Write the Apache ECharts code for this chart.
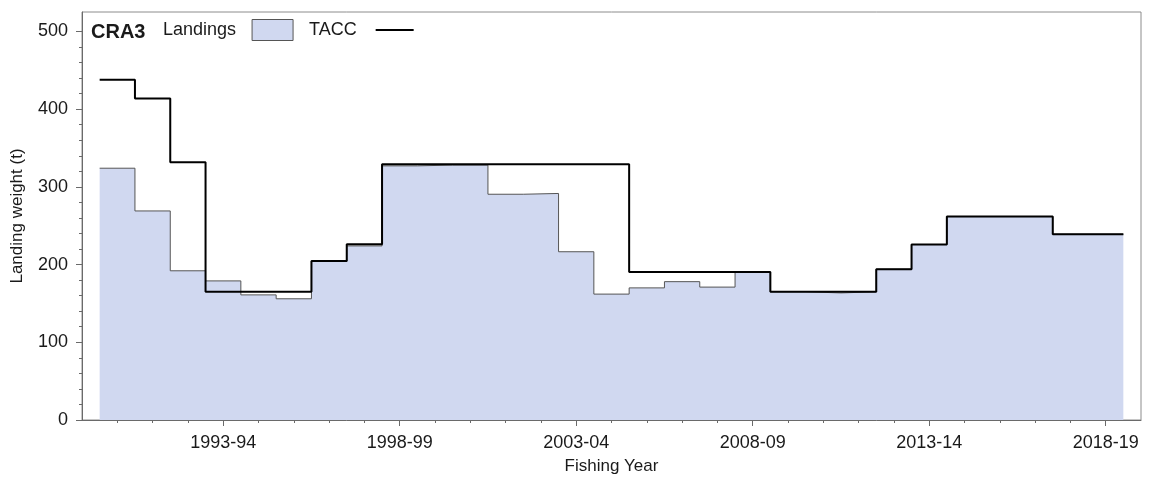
<!DOCTYPE html>
<html>
<head>
<meta charset="utf-8">
<script src="https://cdn.jsdelivr.net/npm/echarts@6/dist/echarts.min.js"></script>
<style>
  html, body { margin: 0; padding: 0; background: #ffffff; }
  #chart { width: 1152px; height: 482px; }
</style>
</head>
<body>
<div id="chart"></div>
<script>
// CRA3 rock lobster: landings and TACC by fishing year (tonnes)
const fishingYears = [
  '1990-91', '1991-92', '1992-93', '1993-94', '1994-95', '1995-96', '1996-97',
  '1997-98', '1998-99', '1999-00', '2000-01', '2001-02', '2002-03', '2003-04',
  '2004-05', '2005-06', '2006-07', '2007-08', '2008-09', '2009-10', '2010-11',
  '2011-12', '2012-13', '2013-14', '2014-15', '2015-16', '2016-17', '2017-18',
  '2018-19'
];
const landings = [
  324, 269, 192, 179, 161, 156, 204,
  224, 327, 328, 328, 290.5, 291.5, 216.5,
  162, 170, 178, 171, 190.5, 165, 163.5,
  165, 194, 225.8, 261.8, 261.8, 261.8, 239,
  239
];
const tacc = [
  437.7, 413.6, 331.7, 164.9, 164.9, 164.9, 204.7,
  226, 329, 329, 329, 329, 329, 329,
  329, 190.6, 190.6, 190.6, 190.6, 164.9, 164.9,
  164.9, 194, 225.8, 261.8, 261.8, 261.8, 239,
  239
];
const xTickLabels = ['1993-94', '1998-99', '2003-04', '2008-09', '2013-14', '2018-19'];
const yTickValues = [0, 100, 200, 300, 400, 500];
const yMinorValues = [20, 40, 60, 80, 120, 140, 160, 180, 220, 240, 260, 280,
  320, 340, 360, 380, 420, 440, 460, 480];

const FONT = "'Liberation Sans', Arial, sans-serif";
const TEXT = '#1a1a1a';
const AXIS = '#6a6a6a';

const startYear = s => parseInt(s, 10);
const majorYears = xTickLabels.map(startYear);
const everyYear = fishingYears.map(startYear);

// Each fishing year occupies half a year either side of its start-year value;
// points sit on the year boundaries and the line steps at each boundary.
function stepPoints(values) {
  const pts = fishingYears.map((fy, i) => [startYear(fy) - 0.5, values[i]]);
  const last = fishingYears.length - 1;
  pts.push([startYear(fishingYears[last]) + 0.5, values[last]]);
  return pts;
}

const chart = echarts.init(document.getElementById('chart'), null, { renderer: 'canvas' });

chart.setOption({
  animation: false,
  backgroundColor: '#ffffff',
  textStyle: { fontFamily: FONT },
  title: {
    text: 'CRA3',
    left: 91, top: 22, padding: 0,
    textStyle: { fontFamily: FONT, fontSize: 20, fontWeight: 'bold', color: TEXT }
  },
  legend: [
    {
      data: [{ name: 'Landings', icon: 'rect',
        itemStyle: { color: '#d0d8f0', borderColor: '#555555', borderWidth: 1 } }],
      left: 163, top: 19, padding: 0,
      itemWidth: 41, itemHeight: 21, align: 'right', selectedMode: false,
      textStyle: { fontFamily: FONT, fontSize: 18, color: TEXT, padding: [2, 11, 0, 0] }
    },
    {
      data: [{ name: 'TACC', icon: 'rect', itemStyle: { color: '#000000', borderWidth: 0 } }],
      left: 309, top: 21, padding: 0,
      itemWidth: 38, itemHeight: 2, align: 'right', selectedMode: false,
      textStyle: { fontFamily: FONT, fontSize: 18, color: TEXT, padding: [2, 14, 0, 0] }
    }
  ],
  grid: {
    left: 82, right: 11, top: 12, bottom: 62,
    show: true, borderColor: '#8c8c8c', borderWidth: 1, backgroundColor: 'transparent'
  },
  xAxis: [
    {
      type: 'value', min: 1989, max: 2019, position: 'bottom',
      axisLine: { show: true, lineStyle: { color: AXIS, width: 1 } },
      axisTick: { show: true, customValues: majorYears, length: 6, lineStyle: { color: AXIS } },
      axisLabel: {
        customValues: majorYears, margin: 14, fontSize: 18, color: TEXT, fontFamily: FONT,
        formatter: v => xTickLabels.find(s => startYear(s) === v) || ''
      },
      splitLine: { show: false },
      name: 'Fishing Year', nameLocation: 'middle', nameGap: 38,
      nameTextStyle: { fontSize: 17, color: TEXT, fontFamily: FONT }
    },
    {
      type: 'value', min: 1989, max: 2019, position: 'bottom',
      axisLine: { show: false },
      axisTick: { show: true, customValues: everyYear, length: 3, lineStyle: { color: AXIS } },
      axisLabel: { show: false },
      splitLine: { show: false }
    }
  ],
  yAxis: [
    {
      type: 'value', min: 0, max: 525, position: 'left',
      axisLine: { show: true, lineStyle: { color: AXIS, width: 1 } },
      axisTick: { show: true, customValues: yTickValues, length: 6, lineStyle: { color: AXIS } },
      axisLabel: { customValues: yTickValues, margin: 14, fontSize: 18, color: TEXT, fontFamily: FONT },
      splitLine: { show: false },
      name: 'Landing weight (t)', nameLocation: 'middle', nameGap: 56,
      nameTextStyle: { fontSize: 17, color: TEXT, fontFamily: FONT }
    },
    {
      type: 'value', min: 0, max: 525, position: 'left',
      axisLine: { show: false },
      axisTick: { show: true, customValues: yMinorValues, length: 3, lineStyle: { color: AXIS } },
      axisLabel: { show: false },
      splitLine: { show: false }
    }
  ],
  series: [
    {
      name: 'Landings', type: 'line', xAxisIndex: 0, yAxisIndex: 0,
      step: 'end', symbol: 'none', silent: true, z: 2,
      data: stepPoints(landings),
      lineStyle: { color: '#555555', width: 1 },
      itemStyle: { color: '#d0d8f0' },
      areaStyle: { color: '#d0d8f0', opacity: 1 }
    },
    {
      name: 'TACC', type: 'line', xAxisIndex: 0, yAxisIndex: 0,
      step: 'end', symbol: 'none', silent: true, z: 3,
      data: stepPoints(tacc),
      lineStyle: { color: '#000000', width: 2 },
      itemStyle: { color: '#000000' }
    }
  ]
});
</script>
</body>
</html>
